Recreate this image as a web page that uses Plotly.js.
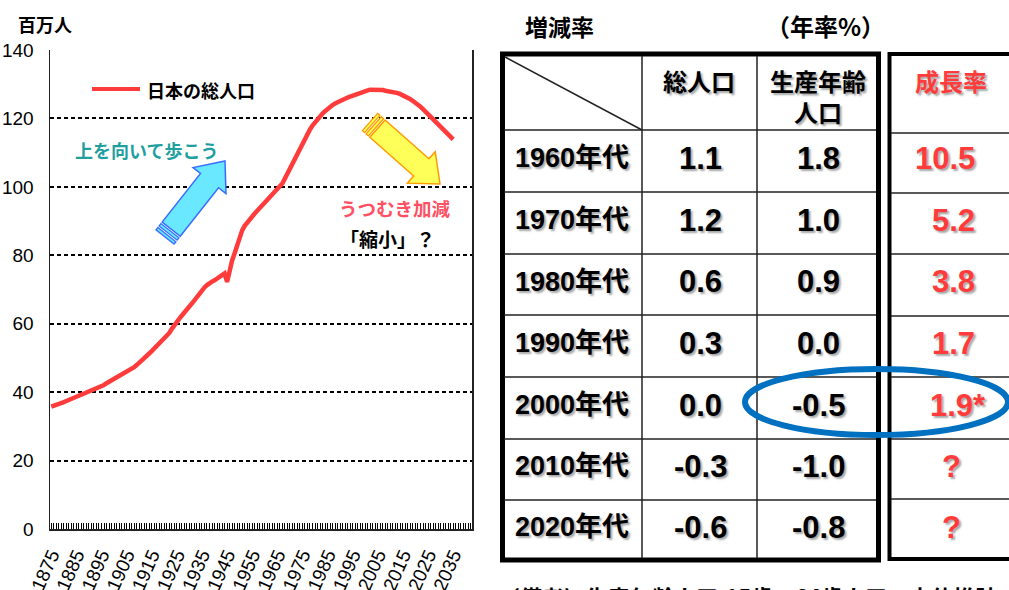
<!DOCTYPE html>
<html>
<head>
<meta charset="utf-8">
<script src="https://cdn.plot.ly/plotly-3.0.1.min.js"></script>
<style>html,body{margin:0;padding:0;background:#fff;}#chart{width:1009px;height:590px;}</style>
</head>
<body>
<div id="chart"></div>
<script>
// ---------------- data ----------------
const years = [];
for (let y = 1875; y <= 2035; y++) years.push(y);
const population = [
  35.8, 36.0, 36.3, 36.6, 36.9, 37.1, 37.4, 37.7, 38.0, 38.3,   // 1875-1884
  38.6, 38.9, 39.2, 39.5, 39.8, 40.1, 40.4, 40.7, 41.0, 41.3,   // 1885-1894
  41.7, 42.1, 42.6, 43.0, 43.4, 43.8, 44.2, 44.6, 45.0, 45.4,   // 1895-1904
  45.8, 46.3, 46.8, 47.3, 47.9, 48.5, 49.2, 49.9, 50.6, 51.3,   // 1905-1914
  52.0, 52.7, 53.4, 54.1, 54.8, 55.6, 56.4, 57.3, 58.5, 59.7,   // 1915-1924
  60.6, 61.5, 62.4, 63.2, 64.0, 64.8, 65.8, 66.8, 67.8, 68.9,   // 1925-1934
  70.0, 70.6, 71.3, 72.0, 72.3, 72.7, 73.2, 73.7, 74.2, 74.7,   // 1935-1944
  72.2, 76.0, 78.5, 80.6, 83.2, 85.5, 87.3, 88.6, 89.6, 90.5,   // 1945-1954
  91.3, 92.2, 93.0, 93.8, 94.5, 95.2, 95.8, 96.6, 97.4, 98.2,   // 1955-1964
  99.0, 99.9, 101.0, 102.4, 103.9, 105.5, 107.0, 108.5, 110.0, 111.5, // 1965-1974
  112.9, 114.3, 115.6, 116.8, 117.9, 118.9, 119.8, 120.6, 121.4, 122.1, // 1975-1984
  122.8, 123.4, 123.9, 124.4, 124.8, 125.2, 125.5, 125.8, 126.1, 126.4, // 1985-1994
  126.7, 127.0, 127.3, 127.6, 127.8, 128.0, 128.2, 128.4, 128.4, 128.5, // 1995-2004
  128.4, 128.4, 128.3, 128.1, 128.0, 127.9, 127.8, 127.6, 127.4, 127.1, // 2005-2014
  126.8, 126.4, 126.0, 125.6, 125.1, 124.6, 124.0, 123.4, 122.7, 122.0, // 2015-2024
  121.3, 120.6, 119.9, 119.2, 118.4, 117.7, 116.9, 116.2, 115.4, 114.6, // 2025-2034
  113.9                                                                 // 2035
];
const xTickYears = [1875, 1885, 1895, 1905, 1915, 1925, 1935, 1945, 1955, 1965, 1975, 1985, 1995, 2005, 2015, 2025, 2035];
const yTickValues = [0, 20, 40, 60, 80, 100, 120, 140];

const seriesName = '日本の総人口';
const yUnit = '百万人';
const tableTitle = '増減率';
const tableUnit = '（年率%）';
const headTotal = '総人口';
const headWorking = '生産年齢<br>人口';
const headGrowth = '成長率';
const decades = ['1960年代', '1970年代', '1980年代', '1990年代', '2000年代', '2010年代', '2020年代'];
const totalPopRate = ['1.1', '1.2', '0.6', '0.3', '0.0', '-0.3', '-0.6'];
const workingPopRate = ['1.8', '1.0', '0.9', '0.0', '-0.5', '-1.0', '-0.8'];
const growthRate = ['10.5', '5.2', '3.8', '1.7', '1.9*', '?', '?'];
const noteText = '（備考）生産年齢人口:15歳～64歳人口、中位推計';
const upText = '上を向いて歩こう';
const downText1 = 'うつむき加減';
const downText2 = '「縮小」？';

// ---------------- layout helpers ----------------
const PL = 50, PR = 472, PT = 50, PB = 529;
const px = x => (x - PL) / (PR - PL);
const py = y => (PB - y) / (PB - PT);
const NUM = '"Liberation Sans", Arial, "Noto Sans CJK JP", sans-serif';
const CJK = '"Noto Sans CJK JP", "Noto Sans CJK SC", sans-serif';
const RED = '#ff3b3b';

const annotations = [];
const shapes = [];
function ann(x, y, text, opts) {
  opts = opts || {};
  annotations.push({
    xref: 'paper', yref: 'paper', x: px(x), y: py(y), text: text, showarrow: false,
    xanchor: opts.xanchor || 'center', yanchor: opts.yanchor || 'middle',
    align: opts.align || 'center',
    font: Object.assign({family: CJK, size: 18, color: '#000', weight: 700}, opts.font || {})
  });
}
function line(x0, y0, x1, y1, color, width) {
  shapes.push({type: 'line', xref: 'paper', yref: 'paper', x0: px(x0), y0: py(y0), x1: px(x1), y1: py(y1),
    line: {color: color, width: width}});
}
function rectOpen(x0, y0, x1, y1, color, width) {
  shapes.push({type: 'rect', xref: 'paper', yref: 'paper', x0: px(x0), y0: py(y0), x1: px(x1), y1: py(y1),
    line: {color: color, width: width}, fillcolor: 'rgba(0,0,0,0)'});
}
function poly(pts, fill, stroke, w) {
  const d = pts.map((p, i) => (i ? 'L' : 'M') + px(p[0]).toFixed(5) + ',' + py(p[1]).toFixed(5)).join(' ') + ' Z';
  shapes.push({type: 'path', xref: 'paper', yref: 'paper', path: d, fillcolor: fill, line: {color: stroke, width: w}});
}
function blockArrow(tail, tip, sw, hw, hl, fill, stroke) {
  const dx = tip[0] - tail[0], dy = tip[1] - tail[1], len = Math.hypot(dx, dy);
  const u = [dx / len, dy / len], n = [-u[1], u[0]];
  const at = (s, o) => [tail[0] + u[0] * s + n[0] * o, tail[1] + u[1] * s + n[1] * o];
  const b = len - hl;
  [[0, 3], [5, 8]].forEach(s => poly([at(s[0], sw), at(s[1], sw), at(s[1], -sw), at(s[0], -sw)], fill, stroke, 1.3));
  poly([at(10, sw), at(b, sw), at(b, hw), at(len, 0), at(b, -hw), at(b, -sw), at(10, -sw)], fill, stroke, 1.5);
}

// ---------------- left chart decorations ----------------
ann(16, 24, yUnit, {xanchor: 'left', font: {size: 18}});
line(92, 89, 140, 89, RED, 4);
ann(145, 90, seriesName, {xanchor: 'left', font: {size: 18}});
ann(73, 150, upText, {xanchor: 'left', font: {size: 18, color: '#1f9f9f'}});
blockArrow([165, 237], [225, 161], 11.5, 21, 25, '#6ae8ff', '#3a6dff');
blockArrow([370, 122], [440, 184], 11.5, 21, 25, '#ffff5a', '#ff9a00');
ann(337, 208, downText1, {xanchor: 'left', font: {size: 18.5, color: '#ff5064'}});
ann(338, 238, downText2, {xanchor: 'left', font: {size: 19}});

// ---------------- table ----------------
ann(559, 26, tableTitle, {font: {size: 23}});
ann(825, 26, tableUnit, {font: {size: 24}});

const rowY = [130, 192, 254, 315, 377, 439, 500, 560];
const rowYR = [133, 193, 254, 316, 377, 439, 499];
rectOpen(502.5, 54, 878.5, 560, '#000', 5);
line(642, 56, 642, 558, '#222', 1.5);
line(757, 56, 757, 558, '#222', 1.5);
for (let i = 0; i < 7; i++) line(504, rowY[i], 876, rowY[i], '#222', 1.5);
line(505, 57, 642, 130, '#222', 1.5);
rectOpen(889.5, 54, 1030, 559, '#000', 4);
for (let i = 0; i < 7; i++) line(891, rowYR[i], 1010, rowYR[i], '#222', 1.5);

const SHADOW = '2px 2px 2px rgba(0,0,0,0.35)';
ann(699, 80, headTotal, {font: {size: 24, shadow: SHADOW}});
ann(818, 96, headWorking, {font: {size: 24, shadow: SHADOW}});
ann(951, 80, headGrowth, {font: {size: 24, color: RED, shadow: SHADOW}});

decades.forEach((d, i) => {
  const yc = (rowY[i] + rowY[i + 1]) / 2 - 3;
  ann(572, yc, d, {font: {family: NUM, size: 27, shadow: SHADOW}});
  ann(700, yc, totalPopRate[i], {font: {family: NUM, size: 31, shadow: SHADOW}});
  ann(818, yc, workingPopRate[i], {font: {family: NUM, size: 31, shadow: SHADOW}});
  const g = growthRate[i];
  if (g === '?') {
    ann(951, yc, g, {font: {family: NUM, size: 31, color: RED, shadow: SHADOW}});
  } else {
    ann(g.endsWith('*') ? 988 : 977, yc, g, {xanchor: 'right', font: {family: NUM, size: 31, color: RED, shadow: SHADOW}});
  }
});

shapes.push({type: 'circle', xref: 'paper', yref: 'paper', x0: px(745), x1: px(1008), y0: py(435), y1: py(369),
  line: {color: '#0070c0', width: 6}, fillcolor: 'rgba(0,0,0,0)'});

ann(496, 596, noteText, {xanchor: 'left', font: {size: 22}});

// ---------------- plot ----------------
const trace = {
  x: years, y: population, type: 'scatter', mode: 'lines', name: seriesName,
  line: {color: RED, width: 4.5}, showlegend: false, hoverinfo: 'skip'
};

const layout = {
  width: 1009, height: 590,
  margin: {l: PL, r: 1009 - PR, t: PT, b: 590 - PB, pad: 0},
  paper_bgcolor: '#fff', plot_bgcolor: '#fff',
  showlegend: false,
  xaxis: {
    type: 'linear', range: [1874.5, 2042.5], tickmode: 'array', tickvals: xTickYears,
    ticktext: xTickYears.map(String), tickangle: -66,
    ticks: 'inside', ticklen: 6, tickwidth: 1, tickcolor: '#000',
    minor: {tick0: 1875, dtick: 1, ticks: 'inside', ticklen: 6, tickwidth: 1, tickcolor: '#000', showgrid: false},
    showgrid: false, zeroline: false, showline: true, linecolor: '#222', linewidth: 1.5,
    tickfont: {family: NUM, size: 19, color: '#000'}, ticklabelstandoff: 6, fixedrange: true
  },
  yaxis: {
    range: [0, 140], tickmode: 'array', tickvals: yTickValues, ticks: '',
    showgrid: true, gridcolor: '#000', gridwidth: 2, griddash: '4px,3px',
    zeroline: false, showline: true, mirror: true, linecolor: '#222', linewidth: 1.5,
    tickfont: {family: NUM, size: 19, color: '#000'}, ticklabelstandoff: 11, fixedrange: true
  },
  annotations: annotations,
  shapes: shapes
};

Plotly.newPlot('chart', [trace], layout, {displayModeBar: false, staticPlot: true});
</script>
</body>
</html>
